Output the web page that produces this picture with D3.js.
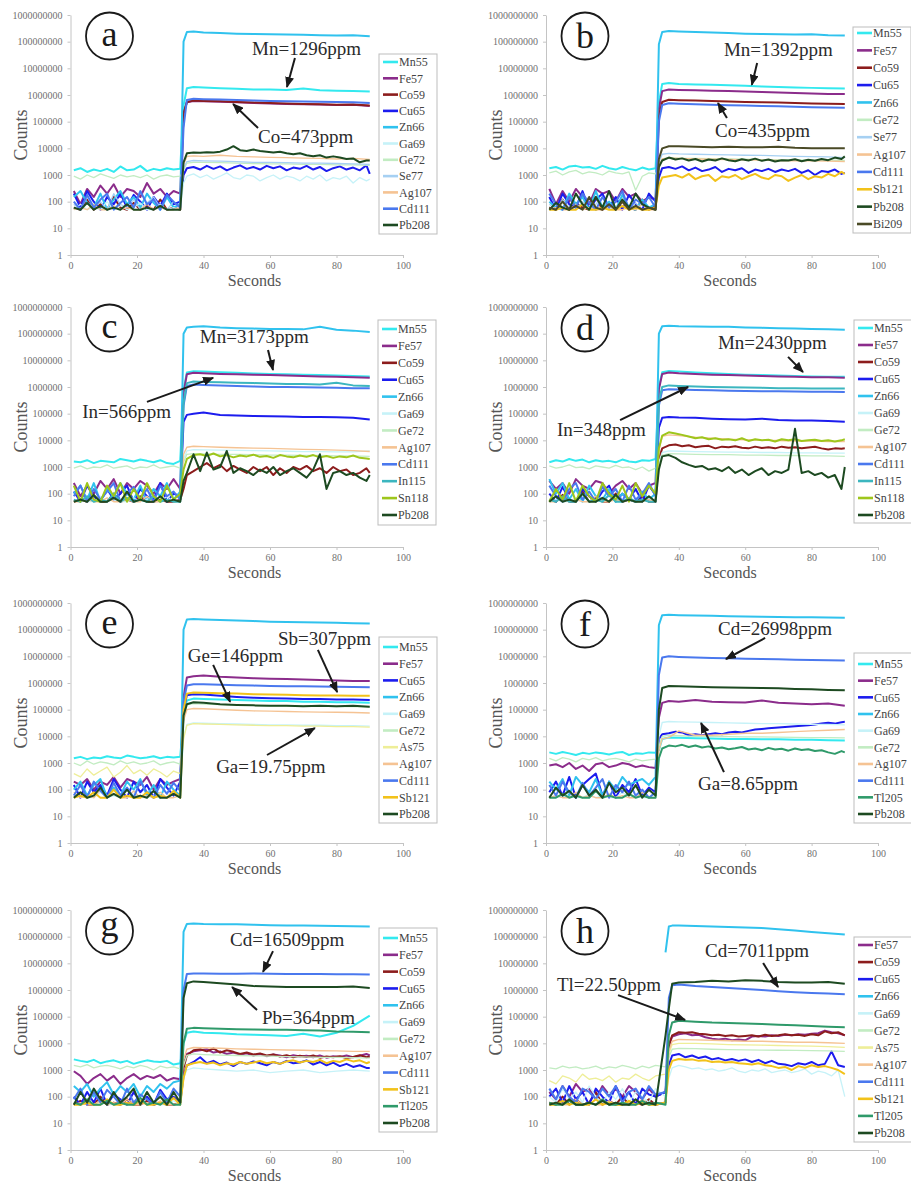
<!DOCTYPE html>
<html>
<head>
<meta charset="utf-8">
<script src="https://cdnjs.cloudflare.com/ajax/libs/d3/7.8.5/d3.min.js"></script>
<style>
    body { margin: 0; background: #fff; }
</style>
</head>
<body>
<div id="chartContainer"></div>
<script>
var width = 911, height = 1186;
var serifFont = "'Liberation Serif', 'Times New Roman', Times, Tinos, 'Nimbus Roman', 'DejaVu Serif', 'Noto Serif', serif";

// time grids (seconds)
const bgTime = [1, 3, 5, 7, 9, 11, 13, 15, 17, 19, 21, 23, 25, 27, 29, 31, 33];
const plTime = [34, 35, 37, 40, 45, 50, 55, 60, 65, 70, 75, 80, 85, 90];
const plTimeFine = [34, 35, 37, 39, 41, 43, 45, 47, 49, 51, 53, 55, 57, 59, 61, 63, 65, 67, 69, 71, 73, 75, 77, 79, 81, 83, 85, 87, 89, 90];
// panel h starts later
const bgTimeH = [1, 3, 5, 7, 9, 11, 13, 15, 17, 19, 21, 23, 25, 27, 29, 31, 33, 36];
const plTimeH = [37, 38, 40, 45, 50, 55, 60, 65, 70, 75, 80, 85, 90];
const plTimeFineH = [37, 38, 40, 42, 44, 46, 48, 50, 52, 54, 56, 58, 60, 62, 64, 66, 68, 70, 72, 74, 76, 78, 80, 82, 84, 86, 88, 90];

const yTicks = [1, 10, 100, 1000, 10000, 100000, 1000000, 10000000, 100000000, 1000000000];
const xTicks = [0, 20, 40, 60, 80, 100];

const colors = {
    Mn55: "#33e9ef", Fe57: "#8b2c8b", Co59: "#8c1c1c", Cu65: "#1c1cee", Zn66: "#30c2ee",
    Ga69: "#c6f2f8", Ge72: "#c2ecc2", Se77: "#a6d0f2", As75: "#eeee98", Ag107: "#f5c393",
    Cd111: "#4a78ee", In115: "#3cb6bf", Sn118: "#9ec61c", Sb121: "#f2c21a", Tl205: "#2f9a6a",
    Pb208: "#1d4a21", Bi209: "#4a4a26"
};
const thin = { Ga69: 1.3, Ge72: 1.3, Se77: 1.3, As75: 1.3, Ag107: 1.4 };

// ---------- panel a ----------
const namesA = ["Mn55", "Fe57", "Co59", "Cu65", "Zn66", "Ga69", "Ge72", "Se77", "Ag107", "Cd111", "Pb208"];
const bgA = {
    Mn55: [1500, 1800, 1300, 1600, 1400, 1700, 1300, 2100, 1500, 1600, 2200, 1400, 1700, 1500, 1800, 1600, 1700],
    Fe57: [250, 80, 300, 150, 400, 200, 450, 150, 300, 250, 150, 500, 200, 300, 150, 250, 200],
    Co59: [60, 50, 120, 50, 80, 50, 150, 60, 50, 90, 50, 70, 50, 120, 50, 60, 50],
    Cu65: [200, 60, 250, 100, 50, 150, 80, 200, 60, 180, 100, 50, 150, 70, 200, 80, 100],
    Zn66: [150, 250, 90, 60, 200, 50, 120, 250, 80, 150, 60, 200, 90, 50, 150, 60, 80],
    Ga69: [50, 80, 50, 60, 50, 100, 50, 70, 50, 60, 90, 50, 50, 80, 50, 60, 50],
    Ge72: [900, 700, 1000, 800, 1100, 900, 750, 1000, 850, 950, 800, 1000, 700, 900, 1000, 850, 900],
    Se77: [80, 50, 150, 60, 100, 50, 200, 80, 60, 120, 50, 90, 150, 60, 50, 100, 60],
    Ag107: [50, 60, 50, 80, 50, 50, 70, 50, 60, 50, 50, 80, 50, 60, 50, 50, 60],
    Cd111: [100, 50, 180, 60, 120, 200, 50, 90, 150, 60, 250, 80, 120, 50, 180, 100, 60],
    Pb208: [60, 50, 90, 50, 70, 50, 60, 50, 80, 50, 50, 60, 50, 70, 50, 50, 50]
};
const plA = {
    Mn55: [4e5, 1.8e6, 2e6, 1.9e6, 1.8e6, 1.7e6, 1.6e6, 1.6e6, 1.55e6, 1.75e6, 1.5e6, 1.45e6, 1.4e6, 1.35e6],
    Fe57: [2e5, 5.3e5, 6e5, 5.8e5, 5.6e5, 5.3e5, 5e5, 4.8e5, 4.6e5, 4.5e5, 4.4e5, 4.2e5, 4.3e5, 3.9e5],
    Co59: [2e5, 5.5e5, 6.2e5, 6e5, 5.8e5, 5.5e5, 5.2e5, 5e5, 4.8e5, 4.6e5, 4.5e5, 4.3e5, 4.4e5, 4e5],
    Cu65: [1000, 1800, 2000, 1600, 2200, 1700, 2100, 1500, 1900, 2300, 1700, 2000, 1600, 2200, 1800, 2100, 1500, 1900, 1700, 2200, 1600, 2000, 1400, 1800, 2100, 1600, 1900, 1500, 2300, 1100],
    Zn66: [1e8, 2.3e8, 2.4e8, 2.2e8, 2.1e8, 2e8, 1.95e8, 1.9e8, 1.85e8, 1.8e8, 1.75e8, 1.7e8, 1.75e8, 1.6e8],
    Ga69: [500, 900, 1100, 800, 1000, 700, 900, 1200, 800, 700, 1000, 900, 600, 800, 1000, 700, 900, 800, 600, 900, 700, 1000, 600, 800, 700, 900, 500, 800, 600, 700],
    Ge72: [1500, 2800, 3000, 3000, 2900, 2800, 2700, 2600, 2600, 2500, 2500, 2400, 2400, 2300],
    Se77: [1800, 3200, 3500, 3400, 3300, 3200, 3000, 3000, 2900, 2800, 2800, 2700, 2600, 2500],
    Ag107: [2500, 5000, 5200, 5000, 5500, 5000, 4800, 4600, 4500, 4300, 4200, 4000, 4200, 3800],
    Cd111: [6e4, 6.5e5, 7.2e5, 7e5, 6.8e5, 6.5e5, 6.2e5, 6e5, 5.8e5, 5.7e5, 5.6e5, 5.5e5, 5.4e5, 5e5],
    Pb208: [3000, 6500, 7000, 6800, 7200, 7000, 7500, 9000, 12000, 8500, 8000, 9000, 8000, 7500, 7000, 7500, 6500, 6000, 6500, 5500, 5000, 5500, 4500, 5000, 4500, 4000, 4200, 3000, 3500, 3500]
};
const notesA = [
    ["Mn=1296ppm", 54.6, 7.5, 67.5, 7.39, 65.1, 6.3],
    ["Co=473ppm", 56.4, 4.2, 56.4, 4.76, 48.9, 5.66]
];

// ---------- panel b ----------
const namesB = ["Mn55", "Fe57", "Co59", "Cu65", "Zn66", "Ge72", "Se77", "Ag107", "Cd111", "Sb121", "Pb208", "Bi209"];
const bgB = {
    Mn55: [1800, 2000, 1600, 2100, 2200, 1900, 2000, 1700, 2200, 1800, 1600, 2000, 1700, 1500, 1900, 1600, 1800],
    Fe57: [300, 80, 250, 100, 300, 150, 80, 300, 200, 250, 100, 300, 150, 200, 100, 150, 120],
    Co59: [60, 50, 120, 50, 90, 60, 50, 150, 50, 80, 50, 100, 60, 50, 120, 50, 70],
    Cu65: [150, 50, 200, 80, 60, 250, 50, 120, 200, 60, 150, 50, 180, 80, 50, 200, 100],
    Zn66: [100, 60, 50, 200, 80, 150, 50, 250, 60, 100, 50, 180, 60, 50, 120, 60, 80],
    Ge72: [1200, 1400, 1000, 1300, 1500, 1100, 1300, 1200, 1000, 1400, 1200, 1100, 1300, 270, 900, 1200, 1100],
    Se77: [80, 50, 120, 60, 50, 100, 50, 80, 150, 50, 60, 100, 50, 90, 50, 60, 50],
    Ag107: [50, 60, 50, 50, 80, 50, 60, 50, 50, 70, 50, 50, 60, 50, 80, 50, 50],
    Cd111: [200, 80, 50, 150, 60, 200, 90, 50, 150, 60, 100, 250, 50, 120, 80, 150, 60],
    Sb121: [50, 50, 60, 50, 50, 80, 50, 50, 60, 50, 50, 70, 50, 60, 50, 50, 60],
    Pb208: [50, 90, 60, 50, 200, 80, 50, 150, 60, 250, 50, 120, 60, 200, 80, 60, 50],
    Bi209: [60, 50, 100, 50, 70, 50, 150, 60, 50, 80, 50, 100, 50, 70, 50, 60, 50]
};
const plB = {
    Mn55: [5e5, 2.6e6, 2.8e6, 2.6e6, 2.5e6, 2.4e6, 2.3e6, 2.2e6, 2.1e6, 2e6, 1.9e6, 1.85e6, 1.8e6, 1.75e6],
    Fe57: [3e5, 1.4e6, 1.6e6, 1.55e6, 1.5e6, 1.45e6, 1.4e6, 1.35e6, 1.3e6, 1.25e6, 1.2e6, 1.15e6, 1.1e6, 1.1e6],
    Co59: [1.5e5, 5.5e5, 6.6e5, 6.4e5, 6.2e5, 6e5, 5.7e5, 5.5e5, 5.4e5, 5.2e5, 5e5, 4.8e5, 4.7e5, 4.6e5],
    Cu65: [800, 1800, 2000, 1700, 2100, 1500, 1900, 1400, 1600, 2000, 1300, 1700, 1500, 1800, 1200, 1600, 1400, 1700, 1300, 1600, 1400, 1700, 1200, 1500, 1000, 1400, 1300, 1600, 1100, 1200],
    Zn66: [8e7, 2.3e8, 2.5e8, 2.4e8, 2.3e8, 2.2e8, 2.1e8, 2e8, 1.95e8, 1.9e8, 1.85e8, 1.9e8, 1.75e8, 1.7e8],
    Ge72: [2000, 4000, 4500, 4300, 4200, 4100, 4000, 3900, 3800, 3800, 3700, 3600, 3600, 3500],
    Se77: [3000, 6000, 6500, 6200, 6000, 5800, 5700, 5500, 5400, 5200, 5000, 4900, 4800, 4500],
    Ag107: [2000, 4000, 4300, 4200, 4000, 3900, 3800, 3700, 3600, 3500, 3400, 3400, 3300, 3200],
    Cd111: [1e5, 4.2e5, 4.9e5, 4.7e5, 4.5e5, 4.3e5, 4.1e5, 4e5, 3.9e5, 3.8e5, 3.6e5, 3.5e5, 3.4e5, 3.3e5],
    Sb121: [400, 800, 900, 1000, 800, 1100, 700, 900, 1000, 600, 900, 800, 1000, 700, 900, 1100, 800, 700, 1000, 900, 600, 800, 1000, 700, 900, 800, 1100, 900, 1300, 1100],
    Pb208: [2000, 3500, 4500, 3800, 4200, 3500, 4000, 3200, 3800, 3500, 4200, 3600, 3300, 3900, 3500, 4100, 3400, 3800, 3200, 3600, 3500, 3900, 3300, 3700, 3400, 4000, 3600, 4500, 4000, 5000],
    Bi209: [4000, 1e4, 1.2e4, 1.2e4, 1.15e4, 1.1e4, 1.15e4, 1.1e4, 1.1e4, 1.15e4, 1.05e4, 1e4, 1e4, 1e4]
};
const notesB = [
    ["Mn=1392ppm", 53.6, 7.46, 63.6, 7.2, 62.0, 6.38],
    ["Co=435ppm", 50.9, 4.43, 54.5, 5.14, 51.8, 5.7]
];

// ---------- panel c ----------
const namesC = ["Mn55", "Fe57", "Co59", "Cu65", "Zn66", "Ga69", "Ge72", "Ag107", "Cd111", "In115", "Sn118", "Pb208"];
const bgC = {
    Mn55: [1600, 1500, 1800, 1400, 1700, 1600, 1500, 2000, 1800, 1600, 1900, 1700, 1500, 1800, 1400, 1300, 1700],
    Fe57: [250, 80, 200, 100, 300, 150, 350, 100, 250, 150, 300, 200, 100, 250, 150, 350, 150],
    Co59: [50, 60, 50, 80, 50, 50, 100, 50, 60, 50, 80, 50, 50, 60, 50, 50, 60],
    Cu65: [120, 50, 200, 80, 50, 150, 60, 100, 200, 50, 150, 80, 60, 250, 50, 100, 80],
    Zn66: [100, 200, 60, 250, 50, 150, 80, 250, 100, 60, 200, 50, 150, 80, 250, 60, 120],
    Ga69: [50, 60, 50, 50, 80, 50, 60, 50, 50, 70, 50, 60, 50, 50, 80, 50, 50],
    Ge72: [900, 1100, 850, 1000, 950, 1200, 900, 1000, 1100, 850, 1000, 950, 1200, 900, 1000, 1100, 900],
    Ag107: [50, 50, 60, 50, 50, 70, 50, 50, 60, 50, 50, 80, 50, 50, 60, 50, 50],
    Cd111: [80, 200, 50, 150, 60, 120, 250, 50, 100, 180, 60, 150, 50, 200, 80, 120, 60],
    In115: [60, 50, 80, 50, 60, 50, 100, 50, 70, 50, 60, 50, 80, 50, 60, 50, 50],
    Sn118: [200, 50, 250, 60, 50, 200, 80, 250, 50, 150, 60, 250, 80, 50, 200, 60, 100],
    Pb208: [50, 60, 50, 90, 50, 50, 70, 50, 120, 50, 60, 50, 50, 80, 50, 60, 50]
};
const plC = {
    Mn55: [8e5, 3.5e6, 3.9e6, 3.8e6, 3.6e6, 3.4e6, 3.2e6, 3.1e6, 3e6, 2.9e6, 2.8e6, 2.7e6, 2.6e6, 2.5e6],
    Fe57: [6e5, 3e6, 3.4e6, 3.3e6, 3.1e6, 3e6, 2.9e6, 2.8e6, 2.7e6, 2.6e6, 2.5e6, 2.4e6, 2.3e6, 2.2e6],
    Co59: [150, 500, 700, 1000, 1400, 900, 1200, 700, 1100, 800, 600, 1000, 700, 1000, 500, 900, 600, 1000, 800, 1100, 700, 900, 600, 1000, 700, 800, 500, 600, 900, 600],
    Cu65: [5e4, 9e4, 1e5, 1.1e5, 9e4, 8.5e4, 8.2e4, 8e4, 7.8e4, 7.5e4, 7.5e4, 7.3e4, 7e4, 6e4],
    Zn66: [1e8, 1.7e8, 1.8e8, 1.9e8, 1.7e8, 1.6e8, 1.55e8, 1.5e8, 1.5e8, 1.45e8, 1.8e8, 1.4e8, 1.3e8, 1.15e8],
    Ga69: [2000, 4000, 4500, 4400, 4300, 4200, 4100, 4000, 3900, 3800, 3800, 3700, 3700, 4000],
    Ge72: [1500, 3000, 3200, 3100, 3000, 3000, 2900, 2800, 2800, 2700, 2700, 2600, 2600, 2500],
    Ag107: [3000, 5500, 6000, 5800, 5500, 5300, 5100, 5000, 4800, 4600, 4500, 4300, 4100, 3800],
    Cd111: [2e5, 1.1e6, 1.25e6, 1.2e6, 1.15e6, 1.1e6, 1.05e6, 1e6, 1e6, 9.8e5, 9.5e5, 9.3e5, 9e5, 9e5],
    In115: [2.5e5, 1.4e6, 1.6e6, 1.55e6, 1.5e6, 1.45e6, 1.4e6, 1.35e6, 1.3e6, 1.3e6, 1.25e6, 1.45e6, 1.15e6, 1.1e6],
    Sn118: [800, 2000, 2800, 3000, 2600, 3200, 2500, 2800, 2300, 2700, 2500, 2900, 2400, 2600, 2200, 2800, 2500, 2300, 2700, 2400, 2800, 2300, 2600, 2200, 2500, 2300, 2700, 2200, 2100, 2000],
    Pb208: [300, 600, 3000, 700, 3500, 800, 1000, 4000, 600, 900, 700, 500, 800, 600, 1000, 500, 700, 900, 600, 400, 800, 3000, 150, 600, 700, 500, 600, 400, 300, 500]
};
const notesC = [
    ["Mn=3173ppm", 38.9, 7.65, 59.4, 7.39, 60.9, 6.64],
    ["In=566ppm", 3.5, 4.84, 23.0, 5.44, 42.9, 6.34]
];

// ---------- panel d ----------
const namesD = ["Mn55", "Fe57", "Co59", "Cu65", "Zn66", "Ga69", "Ge72", "Ag107", "Cd111", "In115", "Sn118", "Pb208"];
const bgD = {
    Mn55: [1500, 1800, 1600, 2000, 1700, 1900, 1500, 1800, 1600, 1700, 1500, 1900, 1600, 1500, 1800, 1700, 2000],
    Fe57: [300, 150, 250, 100, 350, 200, 150, 300, 250, 100, 200, 300, 150, 250, 100, 200, 250],
    Co59: [60, 50, 90, 50, 50, 120, 50, 70, 50, 50, 100, 50, 60, 50, 80, 50, 50],
    Cu65: [100, 50, 180, 60, 50, 150, 80, 50, 120, 200, 50, 100, 60, 150, 50, 200, 90],
    Zn66: [350, 100, 250, 60, 150, 50, 200, 80, 60, 150, 50, 100, 60, 50, 120, 60, 100],
    Ga69: [50, 60, 50, 50, 70, 50, 50, 60, 50, 80, 50, 50, 60, 50, 50, 70, 50],
    Ge72: [1100, 900, 1000, 1200, 950, 1000, 850, 1100, 1000, 900, 1150, 950, 1000, 800, 1000, 700, 900],
    Ag107: [50, 50, 70, 50, 60, 50, 50, 80, 50, 50, 60, 50, 70, 50, 50, 60, 50],
    Cd111: [200, 80, 50, 150, 250, 60, 120, 50, 180, 80, 150, 50, 200, 60, 100, 250, 80],
    In115: [60, 50, 80, 50, 50, 100, 50, 60, 50, 90, 50, 50, 70, 50, 60, 50, 50],
    Sn118: [50, 150, 60, 250, 50, 200, 80, 50, 250, 100, 60, 200, 50, 250, 80, 200, 100],
    Pb208: [50, 80, 50, 60, 50, 100, 50, 50, 70, 50, 90, 50, 60, 50, 50, 80, 50]
};
const plD = {
    Mn55: [1e6, 3.6e6, 4e6, 3.8e6, 3.5e6, 3.3e6, 3.1e6, 2.9e6, 2.8e6, 2.7e6, 2.6e6, 2.5e6, 2.4e6, 2.4e6],
    Fe57: [8e5, 3.1e6, 3.5e6, 3.3e6, 3.1e6, 2.9e6, 2.8e6, 2.7e6, 2.6e6, 2.5e6, 2.4e6, 2.3e6, 2.3e6, 2.2e6],
    Co59: [2000, 5000, 6500, 7000, 6000, 6500, 5500, 6000, 6200, 5000, 5800, 5500, 6000, 5300, 5000, 5800, 5200, 5500, 5000, 5800, 5300, 5500, 5000, 5400, 5700, 5000, 4500, 5000, 4800, 5000],
    Cu65: [3e4, 7e4, 7.5e4, 7.2e4, 7e4, 6.5e4, 6.2e4, 6e4, 6.5e4, 5.8e4, 5.5e4, 5.5e4, 5.3e4, 5e4],
    Zn66: [1e8, 1.9e8, 2e8, 1.9e8, 1.85e8, 1.8e8, 1.8e8, 1.7e8, 1.65e8, 1.6e8, 1.55e8, 1.5e8, 1.45e8, 1.4e8],
    Ga69: [1500, 3500, 4000, 3900, 3800, 3700, 3600, 3600, 3500, 3500, 3400, 3400, 3300, 3300],
    Ge72: [1200, 2800, 3200, 3100, 3000, 2900, 2900, 2800, 2800, 2700, 2700, 2600, 2600, 2500],
    Ag107: [4000, 1.4e4, 1.6e4, 1.5e4, 1.3e4, 1.2e4, 1.1e4, 1.05e4, 1e4, 9800, 9500, 9300, 9000, 9000],
    Cd111: [2e5, 7.5e5, 8.3e5, 8e5, 7.8e5, 7.5e5, 7.3e5, 7.1e5, 7e5, 6.9e5, 6.8e5, 6.7e5, 6.6e5, 6.5e5],
    In115: [3e5, 1e6, 1.15e6, 1.1e6, 1.05e6, 1e6, 9.8e5, 9.5e5, 9.3e5, 9e5, 8.9e5, 8.8e5, 8.7e5, 8.7e5],
    Sn118: [5000, 1.5e4, 2e4, 1.8e4, 1.6e4, 1.4e4, 1.2e4, 1.3e4, 1.1e4, 1.2e4, 1.05e4, 1.1e4, 1e4, 1.2e4, 9500, 1.1e4, 1e4, 1.05e4, 9000, 1.1e4, 1e4, 1.1e4, 9500, 1e4, 1.05e4, 9500, 1e4, 9000, 1e4, 1.1e4],
    Pb208: [800, 2500, 2800, 2200, 1500, 1200, 1000, 1100, 800, 900, 700, 1000, 600, 800, 500, 700, 900, 500, 700, 600, 800, 27000, 600, 700, 500, 600, 400, 500, 150, 1000]
};
const notesD = [
    ["Mn=2430ppm", 51.8, 7.43, 72.9, 7.13, 77.4, 6.56],
    ["In=348ppm", 3.3, 4.16, 22.3, 4.76, 42.8, 6.0]
];

// ---------- panel e ----------
const namesE = ["Mn55", "Fe57", "Cu65", "Zn66", "Ga69", "Ge72", "As75", "Ag107", "Cd111", "Sb121", "Pb208"];
const bgE = {
    Mn55: [1500, 1700, 1400, 1600, 1500, 1800, 1600, 1500, 1900, 1700, 1500, 1600, 1800, 1500, 1700, 1600, 1700],
    Fe57: [200, 150, 250, 100, 200, 150, 300, 120, 250, 200, 150, 300, 100, 250, 150, 200, 250],
    Cu65: [150, 50, 200, 80, 150, 60, 250, 100, 50, 200, 80, 150, 50, 250, 120, 60, 200],
    Zn66: [100, 200, 60, 150, 250, 50, 120, 60, 200, 100, 250, 60, 150, 50, 200, 100, 60],
    Ga69: [50, 60, 50, 50, 80, 50, 60, 50, 50, 70, 50, 50, 60, 50, 50, 70, 50],
    Ge72: [1000, 800, 1200, 900, 1100, 1000, 850, 1200, 950, 1100, 900, 1000, 1200, 850, 1000, 1100, 900],
    As75: [400, 300, 600, 350, 500, 700, 300, 450, 800, 400, 550, 350, 600, 450, 300, 500, 400],
    Ag107: [80, 50, 60, 50, 100, 50, 70, 50, 50, 90, 50, 60, 50, 80, 50, 50, 60],
    Cd111: [60, 150, 50, 200, 90, 50, 180, 60, 120, 50, 200, 80, 50, 150, 70, 180, 90],
    Sb121: [50, 60, 50, 80, 50, 50, 100, 50, 60, 50, 50, 80, 50, 60, 50, 90, 50],
    Pb208: [50, 80, 50, 60, 120, 50, 70, 50, 100, 50, 60, 50, 90, 50, 50, 70, 50]
};
const plE = {
    Mn55: [5e4, 2.2e5, 2.6e5, 2.5e5, 2.4e5, 2.3e5, 2.2e5, 2.1e5, 2.1e5, 2e5, 2e5, 1.9e5, 1.9e5, 1.8e5],
    Fe57: [3e5, 1.6e6, 1.8e6, 1.9e6, 1.7e6, 1.6e6, 1.5e6, 1.45e6, 1.4e6, 1.35e6, 1.3e6, 1.25e6, 1.2e6, 1.2e6],
    Cu65: [1e5, 3.5e5, 3.8e5, 3.7e5, 3.3e5, 3e5, 2.8e5, 2.7e5, 2.6e5, 2.5e5, 2.5e5, 2.4e5, 2.4e5, 2.3e5],
    Zn66: [1e8, 2.4e8, 2.5e8, 2.4e8, 2.3e8, 2.2e8, 2.1e8, 2e8, 1.95e8, 1.9e8, 1.85e8, 1.8e8, 1.75e8, 1.7e8],
    Ga69: [1e4, 2.8e4, 3.2e4, 3.1e4, 3e4, 2.9e4, 2.8e4, 2.7e4, 2.7e4, 2.6e4, 2.6e4, 2.5e4, 2.5e4, 2.4e4],
    Ge72: [5e4, 1.5e5, 1.7e5, 1.6e5, 1.55e5, 1.5e5, 1.45e5, 1.4e5, 1.4e5, 1.35e5, 1.35e5, 1.3e5, 1.3e5, 1.25e5],
    As75: [8000, 2.6e4, 3e4, 2.9e4, 2.8e4, 2.7e4, 2.6e4, 2.5e4, 2.5e4, 2.4e4, 2.4e4, 2.3e4, 2.3e4, 2.2e4],
    Ag107: [4e4, 1e5, 1.1e5, 1.08e5, 1.02e5, 9.5e4, 9e4, 8.8e4, 8.5e4, 8.3e4, 8.1e4, 8e4, 7.8e4, 7.5e4],
    Cd111: [2e5, 8e5, 9e5, 8.9e5, 8.6e5, 8.3e5, 8e5, 7.8e5, 7.6e5, 7.5e5, 7.4e5, 7.2e5, 7.1e5, 7e5],
    Sb121: [1e5, 4e5, 4.4e5, 4.3e5, 4.1e5, 4e5, 3.8e5, 3.7e5, 3.6e5, 3.5e5, 3.4e5, 3.4e5, 3.3e5, 3.3e5],
    Pb208: [6e4, 1.6e5, 1.9e5, 1.8e5, 1.6e5, 1.5e5, 1.45e5, 1.4e5, 1.4e5, 1.35e5, 1.4e5, 1.35e5, 1.4e5, 1.3e5]
};
const notesE = [
    ["Sb=307ppm", 62.4, 7.43, 74.4, 7.24, 80.2, 5.66],
    ["Ge=146ppm", 35.3, 6.79, 42.9, 6.68, 48.0, 5.29],
    ["Ga=19.75ppm", 43.8, 2.63, 59.1, 3.30, 73.5, 4.31]
];

// ---------- panel f ----------
const namesF = ["Mn55", "Fe57", "Cu65", "Zn66", "Ga69", "Ge72", "Ag107", "Cd111", "Tl205", "Pb208"];
const bgF = {
    Mn55: [2500, 2200, 2600, 2300, 2000, 2400, 2200, 2500, 2300, 2100, 2400, 2600, 2000, 2300, 2200, 2500, 2400],
    Fe57: [800, 900, 700, 1000, 600, 800, 500, 900, 1000, 700, 800, 1000, 900, 700, 800, 700, 650],
    Cu65: [80, 200, 60, 300, 50, 150, 250, 400, 60, 200, 50, 150, 80, 250, 60, 120, 80],
    Zn66: [200, 100, 250, 60, 300, 150, 80, 250, 60, 200, 100, 300, 150, 200, 250, 150, 300],
    Ga69: [50, 60, 50, 80, 50, 50, 70, 50, 60, 50, 50, 80, 50, 60, 50, 50, 70],
    Ge72: [1500, 1200, 1600, 1400, 1100, 1500, 1300, 1600, 1200, 1400, 1500, 1300, 1100, 1400, 1200, 1300, 1400],
    Ag107: [50, 60, 50, 50, 80, 50, 60, 50, 50, 70, 50, 60, 50, 50, 80, 50, 50],
    Cd111: [150, 60, 200, 80, 50, 180, 60, 120, 250, 50, 150, 80, 200, 60, 100, 50, 80],
    Tl205: [50, 50, 70, 50, 60, 50, 50, 90, 50, 60, 50, 50, 70, 50, 60, 50, 50],
    Pb208: [50, 120, 60, 90, 50, 150, 60, 100, 50, 180, 80, 120, 60, 150, 50, 100, 60]
};
const plF = {
    Mn55: [3000, 8000, 9000, 8800, 8500, 8300, 8000, 8000, 7800, 7800, 7500, 7500, 7200, 7000],
    Fe57: [5e4, 1.8e5, 2.1e5, 2e5, 2.3e5, 2e5, 1.9e5, 1.85e5, 2.2e5, 1.8e5, 1.7e5, 1.6e5, 1.7e5, 1.4e5],
    Cu65: [8000, 1.2e4, 1.3e4, 1.5e4, 1.4e4, 1.1e4, 1.2e4, 1.1e4, 1.2e4, 1.3e4, 1.2e4, 1.4e4, 1.5e4, 1.4e4, 1.6e4, 1.8e4, 1.9e4, 2e4, 2.1e4, 2.2e4, 2.3e4, 2.4e4, 2.5e4, 2.6e4, 2.8e4, 3e4, 3.2e4, 3e4, 3.4e4, 3.5e4],
    Zn66: [1.5e8, 3.5e8, 3.6e8, 3.5e8, 3.4e8, 3.3e8, 3.2e8, 3.1e8, 3.05e8, 3e8, 2.95e8, 2.9e8, 2.85e8, 2.8e8],
    Ga69: [1e4, 3.3e4, 3.6e4, 3.5e4, 3.4e4, 3.3e4, 3.2e4, 3.1e4, 3e4, 3e4, 2.9e4, 2.8e4, 2.8e4, 2.7e4],
    Ge72: [4000, 1e4, 1.1e4, 1.05e4, 1e4, 1e4, 9800, 9500, 9500, 9300, 9200, 9000, 9000, 8800],
    Ag107: [3000, 8000, 9000, 1.6e4, 1.1e4, 1.1e4, 1.2e4, 1.3e4, 1.3e4, 1.4e4, 1.5e4, 1.6e4, 1.7e4, 1.8e4],
    Cd111: [2e6, 9e6, 1e7, 9.5e6, 9e6, 8.7e6, 8.5e6, 8.2e6, 8e6, 7.8e6, 7.5e6, 7.3e6, 7.1e6, 7e6],
    Tl205: [1500, 3500, 4500, 4200, 4800, 4000, 4500, 3800, 4200, 3500, 3800, 3300, 3600, 4000, 3200, 3500, 3000, 3700, 3200, 3400, 2900, 3500, 3100, 3300, 2800, 3000, 2500, 2200, 2800, 2500],
    Pb208: [1e5, 6.5e5, 7.7e5, 7.5e5, 7.2e5, 7e5, 6.8e5, 6.6e5, 6.5e5, 6.3e5, 6e5, 5.8e5, 5.5e5, 5.3e5]
};
const notesF = [
    ["Cd=26998ppm", 51.8, 7.8, 66.0, 7.69, 54.2, 6.9],
    ["Ga=8.65ppm", 45.8, 1.99, 53.6, 2.66, 46.7, 4.5]
];

// ---------- panel g ----------
const namesG = ["Mn55", "Fe57", "Co59", "Cu65", "Zn66", "Ga69", "Ge72", "Ag107", "Cd111", "Sb121", "Tl205", "Pb208"];
const bgG = {
    Mn55: [2500, 2200, 2000, 2400, 1800, 2100, 2300, 1900, 2200, 1700, 2000, 2300, 2100, 2000, 2200, 1600, 1800],
    Fe57: [900, 600, 300, 500, 700, 400, 600, 300, 500, 700, 450, 600, 500, 650, 400, 500, 450],
    Co59: [50, 70, 50, 50, 100, 50, 60, 50, 80, 50, 50, 70, 50, 60, 50, 50, 60],
    Cu65: [100, 50, 150, 60, 200, 50, 120, 80, 50, 150, 60, 100, 50, 180, 80, 100, 60],
    Zn66: [250, 150, 300, 100, 200, 350, 120, 250, 150, 300, 100, 250, 150, 300, 200, 350, 400],
    Ga69: [50, 50, 60, 50, 70, 50, 50, 60, 50, 50, 80, 50, 60, 50, 50, 70, 50],
    Ge72: [1500, 1300, 1600, 1200, 1400, 1500, 1300, 1100, 1400, 1200, 1500, 1300, 1000, 1400, 1200, 1300, 1100],
    Ag107: [50, 60, 50, 50, 70, 50, 60, 50, 80, 50, 50, 60, 50, 70, 50, 50, 60],
    Cd111: [80, 200, 50, 150, 60, 180, 100, 50, 200, 60, 120, 80, 50, 150, 60, 200, 100],
    Sb121: [50, 50, 60, 50, 50, 80, 50, 50, 60, 50, 70, 50, 50, 60, 50, 90, 50],
    Tl205: [60, 50, 80, 50, 50, 70, 50, 60, 50, 50, 90, 50, 60, 50, 80, 50, 50],
    Pb208: [50, 150, 60, 200, 80, 50, 150, 60, 100, 200, 50, 150, 60, 100, 50, 150, 60]
};
const plG = {
    Mn55: [1e4, 2.5e4, 2.8e4, 2.5e4, 2.4e4, 2.2e4, 2.1e4, 2e4, 1.9e4, 2.3e4, 1.8e4, 2.5e4, 4.5e4, 1.1e5],
    Fe57: [1500, 4000, 5000, 5500, 6000, 4500, 5000, 4000, 4500, 3800, 4200, 3500, 4000, 3300, 3800, 3500, 3000, 3600, 3200, 3400, 3000, 3500, 2900, 3300, 3100, 3500, 3000, 3400, 4000, 3500],
    Co59: [1200, 3500, 5500, 6000, 5000, 6500, 4500, 5500, 4800, 4000, 4500, 3800, 4200, 3500, 3800, 3200, 3600, 3000, 3400, 3100, 3500, 2900, 3200, 3000, 3300, 2800, 3100, 3600, 3000, 3200],
    Cu65: [600, 1500, 2000, 3000, 1800, 2200, 1600, 1900, 1400, 2000, 1700, 2100, 1800, 1500, 2000, 1700, 2200, 1800, 1900, 2300, 1600, 2000, 1500, 1900, 1400, 1700, 1300, 1500, 1200, 1200],
    Zn66: [1.5e8, 3e8, 3.1e8, 3e8, 2.95e8, 2.9e8, 2.8e8, 2.7e8, 2.65e8, 2.6e8, 2.55e8, 2.5e8, 2.45e8, 2.4e8],
    Ga69: [500, 1000, 1200, 1100, 1000, 900, 1000, 800, 900, 1000, 800, 900, 1000, 900],
    Ge72: [1500, 3500, 4000, 3800, 3600, 3500, 3400, 3300, 3200, 3100, 3000, 3000, 2900, 2800],
    Ag107: [2500, 6000, 7000, 6800, 6500, 6200, 6000, 5800, 5600, 5500, 5300, 5200, 5000, 5000],
    Cd111: [1e6, 4e6, 4.2e6, 4.2e6, 4.1e6, 4.1e6, 4.2e6, 4.1e6, 4e6, 4e6, 4e6, 3.9e6, 3.9e6, 3.8e6],
    Sb121: [500, 1500, 1800, 2000, 1700, 1900, 1500, 1800, 1600, 2000, 1700, 1900, 2200, 1800, 2000, 1700, 2100, 2300, 1900, 2200, 2000, 2400, 1800, 2200, 2000, 2500, 2100, 2300, 1800, 2000],
    Tl205: [1e4, 3.5e4, 3.8e4, 3.7e4, 3.5e4, 3.4e4, 3.3e4, 3.2e4, 3.2e4, 3.1e4, 3e4, 2.8e4, 2.7e4, 2.6e4],
    Pb208: [5e5, 1.8e6, 2.1e6, 2e6, 1.8e6, 1.6e6, 1.4e6, 1.35e6, 1.3e6, 1.3e6, 1.3e6, 1.3e6, 1.35e6, 1.2e6]
};
const notesG = [
    ["Cd=16509ppm", 48.0, 7.65, 60.9, 7.46, 57.9, 6.68],
    ["Pb=364ppm", 57.6, 4.73, 56.1, 5.25, 48.6, 6.11]
];

// ---------- panel h ----------
const namesH = ["Fe57", "Co59", "Cu65", "Zn66", "Ga69", "Ge72", "As75", "Ag107", "Cd111", "Sb121", "Tl205", "Pb208"];
const bgH = {
    Fe57: [150, 80, 250, 100, 300, 150, 200, 80, 250, 120, 200, 100, 250, 150, 80, 200, 100, 150],
    Co59: [60, 50, 100, 50, 80, 50, 60, 150, 50, 70, 50, 100, 50, 60, 50, 80, 50, 60],
    Cu65: [100, 200, 60, 250, 80, 150, 50, 200, 100, 60, 250, 80, 150, 50, 200, 120, 100, 150],
    Zn66: [null, null, null, null, null, null, null, null, null, null, null, null, null, null, null, null, null, 2.6e7],
    Ga69: [100, 60, 200, 80, 150, 60, 250, 100, 60, 150, 80, 200, 60, 150, 100, 60, 200, 100],
    Ge72: [1200, 1100, 1400, 1200, 1300, 1100, 1200, 1400, 1100, 1300, 1200, 1500, 1300, 1100, 1400, 1200, 1500, 1300],
    As75: [400, 300, 600, 500, 350, 700, 450, 500, 400, 600, 350, 500, 450, 700, 500, 400, 600, 700],
    Ag107: [50, 60, 50, 50, 80, 50, 60, 50, 50, 70, 50, 50, 60, 50, 80, 50, 50, 60],
    Cd111: [200, 80, 250, 100, 60, 200, 150, 80, 200, 100, 250, 60, 150, 200, 80, 250, 120, 150],
    Sb121: [50, 50, 70, 50, 60, 50, 50, 80, 50, 60, 50, 50, 70, 50, 60, 50, 50, 60],
    Tl205: [60, 50, 50, 70, 50, 50, 60, 50, 80, 50, 50, 60, 50, 50, 70, 50, 60, 50],
    Pb208: [50, 60, 50, 80, 50, 50, 60, 50, 70, 50, 60, 50, 50, 80, 50, 60, 50, 2e4]
};
const plH = {
    Fe57: [8000, 1.8e4, 2.2e4, 2.4e4, 2e4, 2.1e4, 1.7e4, 1.5e4, 1.4e4, 1.5e4, 1.3e4, 1.4e4, 1.3e4, 1.8e4, 1.9e4, 1.8e4, 2e4, 1.9e4, 2.1e4, 2e4, 2.2e4, 2.1e4, 2.3e4, 2.4e4, 3e4, 2.6e4, 2.4e4, 2e4],
    Co59: [8000, 2e4, 2.6e4, 2.5e4, 2.6e4, 2.3e4, 2.2e4, 2e4, 2.1e4, 1.9e4, 2e4, 1.8e4, 1.9e4, 2e4, 1.8e4, 2.1e4, 1.9e4, 2e4, 2.2e4, 2e4, 2.1e4, 1.9e4, 2.2e4, 2e4, 2.8e4, 2.4e4, 2.6e4, 2e4],
    Cu65: [1500, 3500, 4000, 3000, 3500, 2800, 3200, 2500, 2800, 2300, 2600, 2200, 2500, 2000, 2400, 1800, 2200, 1700, 1600, 1400, 1800, 1600, 2000, 1500, 1700, 5000, 1500, 1300],
    Zn66: [2.4e8, 2.6e8, 2.6e8, 2.5e8, 2.4e8, 2.3e8, 2.2e8, 2.1e8, 1.9e8, 1.7e8, 1.5e8, 1.35e8, 1.2e8],
    Ga69: [500, 1200, 1500, 1300, 1100, 1200, 1000, 1100, 900, 1000, 1200, 900, 800, 1000, 900, 1100, 800, 900, 1000, 800, 900, 1100, 700, 900, 800, 600, 1000, 100],
    Ge72: [3000, 6000, 6500, 6300, 6000, 5800, 5700, 5600, 5500, 5400, 5300, 5200, 5000],
    As75: [4000, 9000, 1e4, 1e4, 9500, 9000, 8800, 8500, 8300, 8000, 7800, 7500, 7000],
    Ag107: [5000, 1.2e4, 1.4e4, 1.35e4, 1.3e4, 1.25e4, 1.2e4, 1.2e4, 1.15e4, 1.1e4, 1.1e4, 1.05e4, 1e4],
    Cd111: [5e5, 1.5e6, 1.6e6, 1.4e6, 1.3e6, 1.2e6, 1.1e6, 1e6, 9e5, 8.3e5, 7.8e5, 7.4e5, 7e5],
    Sb121: [1000, 2200, 2600, 2400, 2500, 2200, 2300, 2000, 2100, 1900, 2000, 1800, 1700, 1600, 1800, 1500, 1400, 1200, 1300, 1000, 1400, 1200, 1500, 1300, 1400, 1200, 1000, 700],
    Tl205: [2e4, 6e4, 7e4, 6.5e4, 6e4, 5.8e4, 5.5e4, 5.3e4, 5e4, 4.8e4, 4.5e4, 4.2e4, 4e4],
    Pb208: [2e5, 1.7e6, 1.9e6, 2e6, 2.2e6, 2.1e6, 2.3e6, 2.2e6, 2e6, 1.9e6, 1.9e6, 2e6, 1.7e6]
};
const notesH = [
    ["Cd=7011ppm", 47.9, 7.24, 65.4, 7.01, 69.9, 6.11],
    ["Tl=22.50ppm", 3.3, 5.96, 21.7, 5.81, 41.9, 4.88]
];

// layout
const rowTop = [15, 307, 603, 910];
const plotH = 240;

const panels = [
    { key: "a", col: 0, row: 0, names: namesA, bg: bgA, pl: plA, notes: notesA, legend: [379, 54, 234, 62, 225] },
    { key: "b", col: 1, row: 0, names: namesB, bg: bgB, pl: plB, notes: notesB, legend: [853, 27, 233, 33, 224] },
    { key: "c", col: 0, row: 1, names: namesC, bg: bgC, pl: plC, notes: notesC, legend: [378, 320, 525, 329, 515] },
    { key: "d", col: 1, row: 1, names: namesD, bg: bgD, pl: plD, notes: notesD, legend: [854, 320, 523, 328, 515] },
    { key: "e", col: 0, row: 2, names: namesE, bg: bgE, pl: plE, notes: notesE, legend: [379, 637, 823, 647, 814] },
    { key: "f", col: 1, row: 2, names: namesF, bg: bgF, pl: plF, notes: notesF, legend: [854, 653, 823, 664, 814] },
    { key: "g", col: 0, row: 3, names: namesG, bg: bgG, pl: plG, notes: notesG, legend: [379, 928, 1132, 938, 1123] },
    { key: "h", col: 1, row: 3, names: namesH, bg: bgH, pl: plH, notes: notesH, legend: [854, 937, 1142, 945, 1133] }
];

const svg = d3.select("#chartContainer")
    .append("svg")
    .attr("width", width)
    .attr("height", height)
    .attr("font-family", serifFont);

svg.append("defs").append("marker")
    .attr("id", "arrow")
    .attr("markerUnits", "userSpaceOnUse")
    .attr("viewBox", "0 0 11 9")
    .attr("markerWidth", 11)
    .attr("markerHeight", 9)
    .attr("refX", 10)
    .attr("refY", 4.5)
    .attr("orient", "auto")
    .append("path")
    .attr("d", "M0,0L11,4.5L0,9Z")
    .attr("fill", "#1a1a1a");

function buildPoints(p, name) {
    let isH = p.key === "h";
    let bgT = isH ? bgTimeH : bgTime;
    let plC = isH ? plTimeH : plTime;
    let plFn = isH ? plTimeFineH : plTimeFine;
    let pl = p.pl[name];
    // noisy series are given on the fine grid
    let grid = pl.length === plFn.length ? plFn : plC;
    let pts = [];
    p.bg[name].forEach(function (v, i) { pts.push({ t: bgT[i], v: v }); });
    pl.forEach(function (v, i) { pts.push({ t: grid[i], v: v }); });
    return pts.filter(function (d) { return d.t !== undefined; });
}

function addText(sel) {
    return sel.append("text").attr("font-family", serifFont).style("font-family", serifFont);
}

function drawPanel(p) {
    let x0 = p.col ? 546 : 70.5, x1 = p.col ? 878 : 403;
    let top = rowTop[p.row], bottom = top + plotH;

    const x = d3.scaleLinear().domain([0, 100]).range([x0, x1]);
    const y = d3.scaleLog().domain([1, 1e9]).range([bottom, top]);

    const g = svg.append("g");

    // axes
    let ya = g.append("g")
        .attr("transform", `translate(${x0},0)`)
        .call(d3.axisLeft(y).tickValues(yTicks).tickFormat(d3.format("d")).tickSize(3).tickSizeOuter(0).tickPadding(5));
    let xa = g.append("g")
        .attr("transform", `translate(0,${bottom})`)
        .call(d3.axisBottom(x).tickValues(xTicks).tickSize(3).tickSizeOuter(0).tickPadding(4));
    [ya, xa].forEach(function (a) {
        a.attr("font-family", serifFont);
        a.select(".domain").attr("stroke", "#c4c4c4");
        a.selectAll(".tick line").attr("stroke", "#c4c4c4");
        a.selectAll(".tick text").attr("fill", "#707070").attr("font-size", 10)
            .style("font-family", serifFont);
    });

    addText(g)
        .attr("transform", `translate(${x0 - 50},${top + 120}) rotate(-90)`)
        .attr("text-anchor", "middle")
        .attr("dy", "0.35em")
        .attr("font-size", 18)
        .attr("fill", "#555")
        .text("Counts");
    addText(g)
        .attr("x", x0 + 184)
        .attr("y", bottom + 31)
        .attr("text-anchor", "middle")
        .attr("font-size", 16)
        .attr("fill", "#555")
        .text("Seconds");

    // signals
    let line = d3.line()
        .defined(function (d) { return d.v != null; })
        .x(function (d) { return x(d.t); })
        .y(function (d) { return y(d.v); });

    p.names.forEach(function (name) {
        g.append("path")
            .datum(buildPoints(p, name))
            .attr("fill", "none")
            .attr("stroke", colors[name])
            .attr("stroke-width", thin[name] || 2)
            .attr("stroke-linejoin", "round")
            .attr("d", line);
    });

    // legend
    let lg = p.legend;
    let step = (lg[4] - lg[3]) / (p.names.length - 1);
    g.append("rect")
        .attr("x", lg[0]).attr("y", lg[1])
        .attr("width", 58).attr("height", lg[2] - lg[1])
        .attr("fill", "#fff").attr("stroke", "#bdbdbd");
    p.names.forEach(function (name, i) {
        let yy = lg[3] + i * step;
        g.append("line")
            .attr("x1", lg[0] + 4).attr("x2", lg[0] + 19)
            .attr("y1", yy).attr("y2", yy)
            .attr("stroke", colors[name]).attr("stroke-width", 2.6);
        addText(g)
            .attr("x", lg[0] + 20).attr("y", yy).attr("dy", "0.35em")
            .attr("font-size", 12).attr("fill", "#444")
            .text(name);
    });

    // annotations: [text, t, log10 counts, arrow from (t, lg), arrow to (t, lg)]
    p.notes.forEach(function (n) {
        g.append("line")
            .attr("x1", x(n[3])).attr("y1", y(Math.pow(10, n[4])))
            .attr("x2", x(n[5])).attr("y2", y(Math.pow(10, n[6])))
            .attr("stroke", "#1a1a1a").attr("stroke-width", 2)
            .attr("marker-end", "url(#arrow)");
        addText(g)
            .attr("x", x(n[1])).attr("y", y(Math.pow(10, n[2])))
            .attr("font-size", 19).attr("fill", "#2a2a2a")
            .text(n[0]);
    });

    // panel letter
    let cx = x0 + 39, cy = top + 21;
    g.append("circle")
        .attr("cx", cx).attr("cy", cy).attr("r", 23.5)
        .attr("fill", "#fff").attr("stroke", "#1a1a1a").attr("stroke-width", 1.8);
    let off = { a: 10, c: 10, e: 10, g: 5 };
    addText(g)
        .attr("x", cx).attr("y", cy + (off[p.key] || 12))
        .attr("text-anchor", "middle")
        .attr("font-size", 36).attr("fill", "#1a1a1a")
        .text(p.key);
}

panels.forEach(function (p) { drawPanel(p); });
</script>
</body>
</html>
